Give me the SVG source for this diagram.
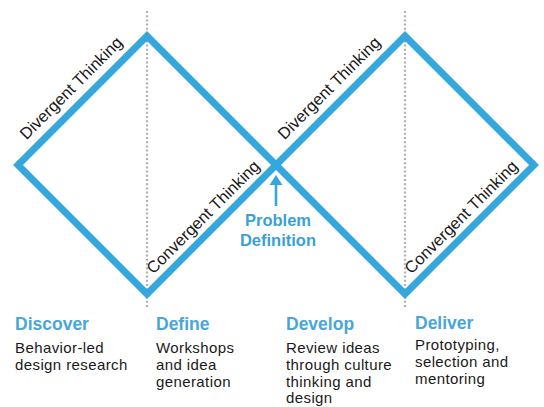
<svg xmlns="http://www.w3.org/2000/svg" width="544" height="407" viewBox="0 0 544 407">
<style>
.dia{fill:none;stroke:#35a7dd;stroke-width:7;stroke-linejoin:miter}
.dot{stroke:#b0b0b0;stroke-width:2.2;stroke-dasharray:2 2.2}
.lbl{font-family:"Liberation Sans",Arial,sans-serif;font-size:16.5px;fill:#1a1a1a;text-anchor:middle}
.hd{font-family:"Liberation Sans",Arial,sans-serif;font-size:17.5px;font-weight:bold;fill:#4aa6d6}
.bd{font-family:"Liberation Sans",Arial,sans-serif;font-size:15px;letter-spacing:0.4px;fill:#1a1a1a}
.pd{font-family:"Liberation Sans",Arial,sans-serif;font-size:16.5px;font-weight:bold;fill:#3a9fd6;text-anchor:middle}
</style>
<rect width="544" height="407" fill="#ffffff"/>
<g id="guides">
<line class="dot" x1="147" y1="11" x2="147" y2="308"/>
<line class="dot" x1="405" y1="11" x2="405" y2="308"/>
</g>
<g id="diamond1">
<polygon class="dia" points="18,165 147,36 276,165 147,294"/>
<text class="lbl" transform="translate(75,92) rotate(-45)">Divergent Thinking</text>
<text class="lbl" transform="translate(207,221) rotate(-45)">Convergent Thinking</text>
</g>
<g id="diamond2">
<polygon class="dia" points="276,165 405,36 534,165 405,294"/>
<text class="lbl" transform="translate(333,92) rotate(-45)">Divergent Thinking</text>
<text class="lbl" transform="translate(465,221) rotate(-45)">Convergent Thinking</text>
</g>
<g id="connectors">
<line x1="276" y1="206" x2="276" y2="183" stroke="#35a7dd" stroke-width="2.6"/>
<polygon points="276,175 269.5,185 282.5,185" fill="#35a7dd"/>
</g>
<g id="problem">
<text class="pd" x="278" y="226">Problem</text>
<text class="pd" x="278" y="246">Definition</text>
</g>
<g id="discover">
<text class="hd" x="15" y="330">Discover</text>
<text class="bd" x="15" y="353">Behavior-led</text>
<text class="bd" x="15" y="369.8">design research</text>
</g>
<g id="define">
<text class="hd" x="156" y="330">Define</text>
<text class="bd" x="156" y="353">Workshops</text>
<text class="bd" x="156" y="369.8">and idea</text>
<text class="bd" x="156" y="386.6">generation</text>
</g>
<g id="develop">
<text class="hd" x="286" y="330">Develop</text>
<text class="bd" x="286" y="353">Review ideas</text>
<text class="bd" x="286" y="369.8">through culture</text>
<text class="bd" x="286" y="386.6">thinking and</text>
<text class="bd" x="286" y="403.4">design</text>
</g>
<g id="deliver">
<text class="hd" x="415" y="329">Deliver</text>
<text class="bd" x="415" y="350">Prototyping,</text>
<text class="bd" x="415" y="366.8">selection and</text>
<text class="bd" x="415" y="383.6">mentoring</text>
</g>
</svg>
